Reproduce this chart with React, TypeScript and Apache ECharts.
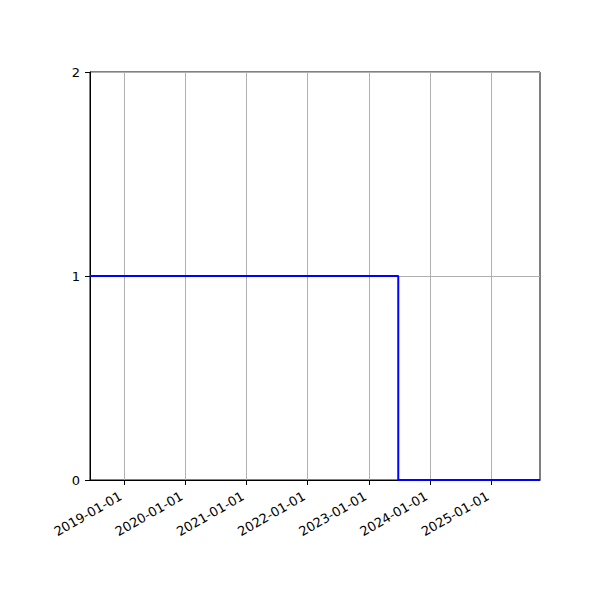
import React, { useEffect, useRef } from "react";
import * as echarts from "echarts";

const xStart = "2018-06-12";
const xEnd = "2025-10-19";
const stepDates = ["2018-06-12", "2023-06-26", "2025-10-19"];
const stepValues = [1, 0, 0];
const yearTicks = [
  "2019-01-01",
  "2020-01-01",
  "2021-01-01",
  "2022-01-01",
  "2023-01-01",
  "2024-01-01",
  "2025-01-01",
];
const yTicks = [0, 1, 2];

const ts = (d: string) => new Date(d + "T00:00:00Z").getTime();
const fmt = (v: number) => {
  const d = new Date(v);
  const p = (n: number) => String(n).padStart(2, "0");
  return `${d.getUTCFullYear()}-${p(d.getUTCMonth() + 1)}-${p(d.getUTCDate())}`;
};

export default function App() {
  const ref = useRef<HTMLDivElement>(null);
  useEffect(() => {
    if (!ref.current) return;
    const chart = echarts.init(ref.current, undefined, { renderer: "svg" });
    const tickVals = yearTicks.map(ts);
    const font = "DejaVu Sans";
    chart.setOption({
      animation: false,
      backgroundColor: "#ffffff",
      grid: {
        left: 90,
        right: 60,
        top: 72,
        bottom: 120,
        show: true,
        borderColor: "#000000",
        borderWidth: 1,
        containLabel: false,
      },
      xAxis: {
        type: "value",
        min: ts(xStart),
        max: ts(xEnd),
        scale: true,
        axisLine: { show: true, onZero: false, lineStyle: { color: "#000", width: 1 } },
        axisTick: {
          show: true,
          inside: false,
          customValues: tickVals,
          length: 5,
          lineStyle: { color: "#000", width: 1 },
        },
        axisLabel: {
          customValues: tickVals,
          formatter: (v: number) => fmt(v),
          rotate: 30,
          margin: 13,
          padding: [0, 4, 0, 0],
          color: "#000",
          fontFamily: font,
          fontSize: 13,
          hideOverlap: false,
          showMinLabel: true,
          showMaxLabel: true,
        },
        splitLine: {
          show: true,
          lineStyle: { color: "#b0b0b0", width: 1 },
        },
      },
      yAxis: {
        type: "value",
        min: yTicks[0],
        max: yTicks[yTicks.length - 1],
        interval: 1,
        axisLine: { show: true, lineStyle: { color: "#000", width: 1 } },
        axisTick: { show: true, inside: false, length: 5, lineStyle: { color: "#000", width: 1 } },
        axisLabel: {
          color: "#000",
          fontFamily: font,
          fontSize: 13,
          margin: 10,
        },
        splitLine: { show: true, lineStyle: { color: "#b0b0b0", width: 1 } },
      },
      series: [
        {
          type: "line",
          step: "end",
          data: stepDates.map((d, i) => [ts(d), stepValues[i]]),
          showSymbol: false,
          symbol: "none",
          lineStyle: { color: "#0000ff", width: 2 },
          z: 5,
        },
      ],
    });
    return () => chart.dispose();
  }, []);
  return (
    <div
      ref={ref}
      style={{ position: "fixed", left: 0, top: 0, width: 600, height: 600 }}
    />
  );
}
